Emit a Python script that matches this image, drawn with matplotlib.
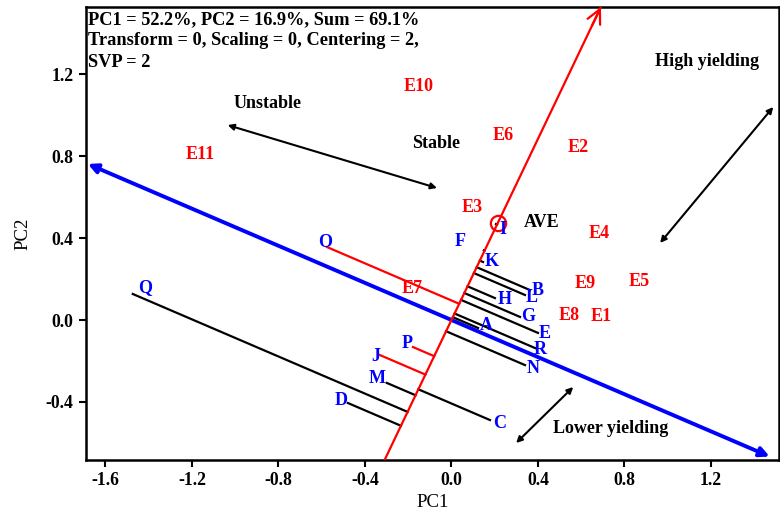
import numpy as np
import matplotlib
matplotlib.use("Agg")
import matplotlib.pyplot as plt

# --- Datos del biplot GGE (media vs. estabilidad) ---
GENOTYPES = list("ABCDEFGHIJKLMNOPQR")
G_PC1 = [0.123, 0.363, 0.178, -0.479, 0.400, 0.150, 0.317, 0.201, 0.206,
         -0.331, 0.146, 0.340, -0.299, 0.340, -0.576, -0.178, -1.474, 0.387]
G_PC2 = [-0.039, 0.146, -0.488, -0.405, -0.063, 0.340, 0.015, 0.107, 0.468,
         -0.171, 0.283, 0.122, -0.307, -0.220, 0.356, -0.132, 0.127, -0.137]

ENVIRONMENTS = ["E1", "E2", "E3", "E4", "E5", "E6", "E7", "E8", "E9", "E10", "E11"]
E_PC1 = [0.692, 0.586, 0.095, 0.683, 0.868, 0.238, -0.183, 0.544, 0.618, -0.150, -1.164]
E_PC2 = [0.015, 0.844, 0.551, 0.420, 0.190, 0.898, 0.156, 0.024, 0.180, 1.141, 0.805]

# Ambiente promedio (AEC)
AVE_ENV = (0.215, 0.475)

HEADER = ["PC1 = 52.2%, PC2 = 16.9%, Sum = 69.1%",
          "Transform = 0, Scaling = 0, Centering = 2,",
          "SVP = 2"]

X_TICKS = [-1.6, -1.2, -0.8, -0.4, 0.0, 0.4, 0.8, 1.2]
Y_TICKS = [-0.4, 0.0, 0.4, 0.8, 1.2]

# --- Configuración de estilo ---
XLIM = (-1.69, 1.515)
YLIM = (-0.683, 1.527)
FONT = "Liberation Serif"
FS = 13
RED_PROJ = {"O", "J", "P"}

# Desplazamiento de las etiquetas de genotipos (pixeles)
LABEL_OFFSETS = {
    "A": (8, 2), "B": (8, 0), "C": (10, -3), "D": (-7, 3), "E": (7, -1),
    "F": (-24, 9), "G": (8, 0), "H": (10, -1), "I": (7, -5), "J": (-4, -1),
    "K": (9, 0), "L": (7, -3), "M": (-10, 4), "N": (8, -3), "O": (-2, 5),
    "P": (-6, 4), "Q": (12, 6), "R": (5, -1),
}

# Flechas y textos explicativos (coordenadas de datos)
NOTES = [
    ("Unstable", -0.849, 1.054),
    ("Stable", -0.072, 0.859),
    ("High yielding", 1.183, 1.259),
    ("Lower yielding", 0.734, -0.527),
]
NOTE_ARROWS = [
    ((-1.035, 0.951), (-0.067, 0.644)),
    ((1.488, 1.039), (0.965, 0.376)),
    ((0.563, -0.327), (0.299, -0.600)),
]


def line_in_box(direction, xlim, ylim):
    """Extremos de la recta que pasa por el origen dentro de los límites."""
    dx, dy = direction
    ts = []
    for lim, d in ((xlim, dx), (ylim, dy)):
        if d != 0:
            ts += [lim[0] / d, lim[1] / d]
    ts = np.array(ts)
    t_pos = ts[ts > 0].min()
    t_neg = ts[ts < 0].max()
    return (t_neg * dx, t_neg * dy), (t_pos * dx, t_pos * dy)


def make_plot(path):
    plt.rcParams["font.family"] = [FONT, "DejaVu Serif"]
    plt.rcParams["font.weight"] = "bold"
    fig = plt.figure(figsize=(7.8, 5.15), dpi=100)
    ax = fig.add_axes([0.1103, 0.1068, 0.8885, 0.8796])
    ax.set_xlim(*XLIM)
    ax.set_ylim(*YLIM)

    ave = np.array(AVE_ENV)
    u = ave / np.linalg.norm(ave)
    perp = np.array([u[1], -u[0]])

    # Eje del ambiente promedio (rojo) con flecha abierta
    lo, hi = line_in_box(u, XLIM, YLIM)
    ax.plot([lo[0], hi[0]], [lo[1], hi[1]], color="red", lw=1.6, zorder=3,
            solid_capstyle="butt")
    ax.annotate("", xy=hi, xytext=(hi[0] - 0.1 * u[0], hi[1] - 0.1 * u[1]),
                arrowprops=dict(arrowstyle="->", color="red", lw=1.6,
                                mutation_scale=25, shrinkA=0, shrinkB=0),
                zorder=3)
    ax.plot(ave[0], ave[1], marker="o", ms=11, mfc="none", mec="red",
            mew=1.6, zorder=4)

    # Eje perpendicular (azul) con flechas en ambos extremos
    lo_b, hi_b = line_in_box(perp, XLIM, YLIM)
    lo_b = np.array(lo_b) * 0.995
    hi_b = np.array(hi_b) * 0.975
    ax.annotate("", xy=hi_b, xytext=lo_b,
                arrowprops=dict(arrowstyle="<|-|>", color="blue", lw=2.8,
                                mutation_scale=14, shrinkA=0, shrinkB=0),
                zorder=2)

    # Proyecciones de los genotipos sobre el eje del ambiente promedio
    for g, x, y in zip(GENOTYPES, G_PC1, G_PC2):
        p = np.array([x, y])
        foot = np.dot(p, u) * u
        col = "red" if g in RED_PROJ else "black"
        ax.plot([x, foot[0]], [y, foot[1]], color=col, lw=1.6, zorder=2.5)

    for g, x, y in zip(GENOTYPES, G_PC1, G_PC2):
        ax.annotate(g, (x, y), xytext=LABEL_OFFSETS[g], textcoords="offset pixels",
                    ha="center", va="center", color="blue", fontsize=FS,
                    zorder=5)

    for e, x, y in zip(ENVIRONMENTS, E_PC1, E_PC2):
        ax.text(x, y, e, ha="center", va="center", color="red", fontsize=FS,
                zorder=5)

    ax.text(0.419, 0.478, "AVE", ha="center", va="center", fontsize=FS, zorder=5)

    for txt, x, y in NOTES:
        ax.text(x, y, txt, ha="center", va="center", fontsize=FS)
    for a, b in NOTE_ARROWS:
        ax.annotate("", xy=b, xytext=a,
                    arrowprops=dict(arrowstyle="<|-|>", color="black", lw=1.5,
                                    mutation_scale=9, shrinkA=0, shrinkB=0))

    ax.text(0.003, 0.991, "\n".join(HEADER), transform=ax.transAxes,
            ha="left", va="top", fontsize=13.2, linespacing=1.33)

    # Ejes
    ax.set_xticks(X_TICKS)
    ax.set_yticks(Y_TICKS)
    ax.set_xticklabels([f"{v:.1f}" for v in X_TICKS])
    ax.set_yticklabels([f"{v:.1f}" for v in Y_TICKS])
    ax.tick_params(direction="out", length=5, width=1.5, labelsize=12.7, pad=4)
    for s in ax.spines.values():
        s.set_linewidth(1.8)
    ax.set_xlabel("PC1", fontsize=13.5, fontweight="normal", labelpad=3)
    ax.set_ylabel("PC2", fontsize=13.5, fontweight="normal", labelpad=10)

    fig.savefig(path, dpi=100)
    plt.close(fig)


if __name__ == "__main__":
    make_plot("out.png")
